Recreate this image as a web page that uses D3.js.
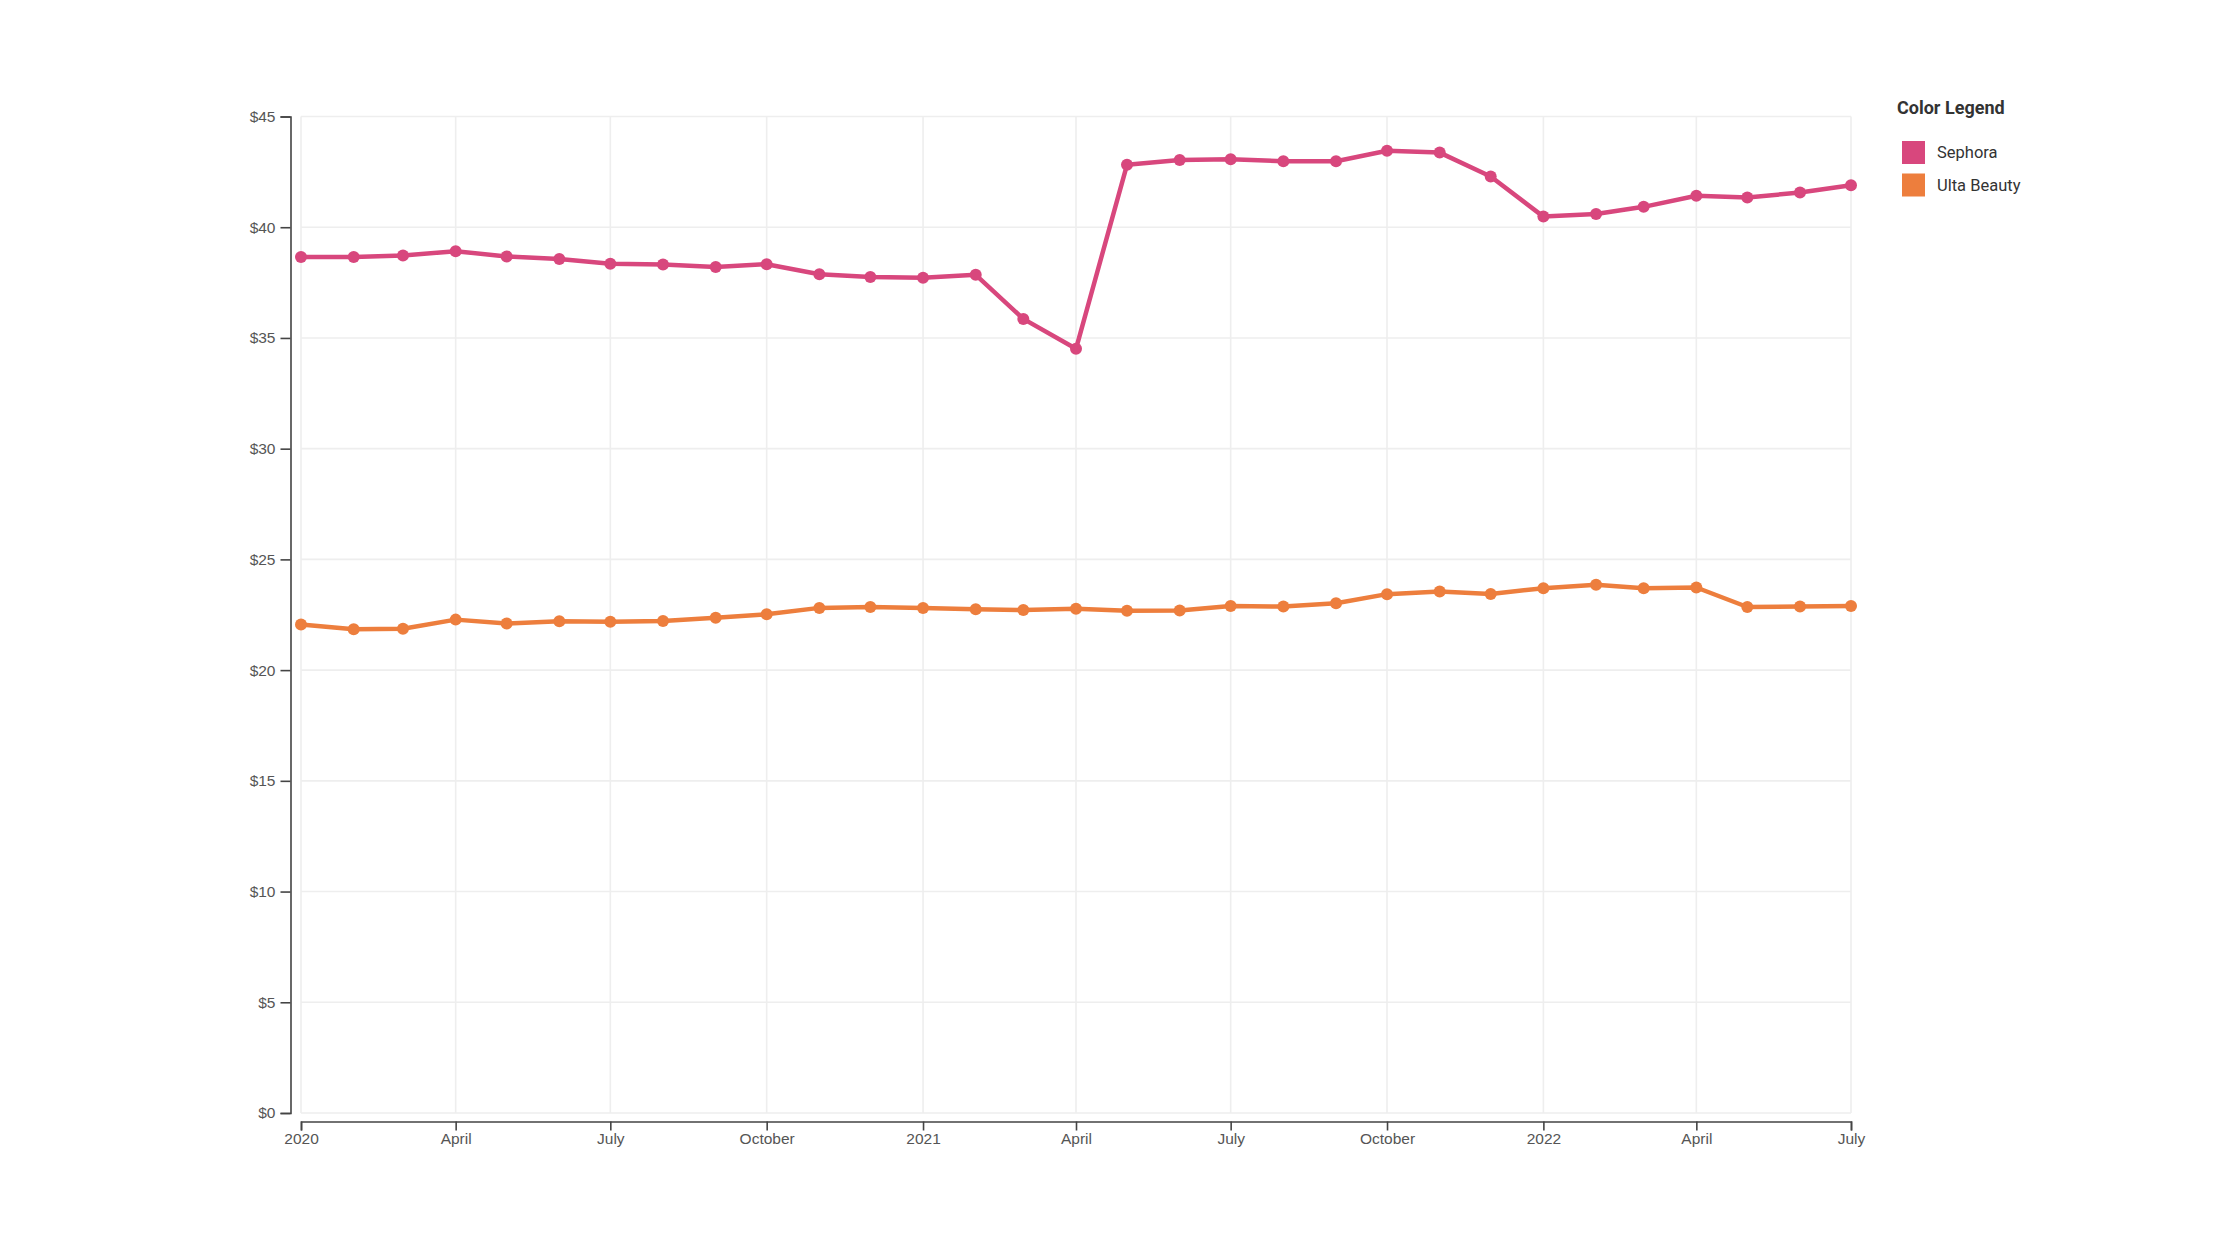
<!DOCTYPE html>
<html>
<head>
<meta charset="utf-8">
<title>Sephora vs Ulta Beauty</title>
<script src="https://cdn.jsdelivr.net/npm/d3@7"></script>
<style>
	html, body {
		margin: 0;
		padding: 0;
		background: #fff;
	}
	.chart-holder {
		width: 2240px;
		height: 1260px;
	}
	.axis text {
		font-family: 'Liberation Sans', Arial, sans-serif;
		font-size: 15.5px;
		fill: #555;
	}
	.axis path,
	.axis line {
		stroke: #444;
		stroke-width: 1.6px;
	}
	.grid line {
		stroke: #eeeeee;
		stroke-width: 1.6px;
	}
	.legend text {
		font-family: Roboto, 'Noto Sans', sans-serif;
		fill: #333;
	}
</style>
</head>
<body>
<div class="chart-holder"></div>
<script>
// monthly points, Jan 2020 .. Jul 2022
var months = [
	'2020-01', '2020-02', '2020-03', '2020-04', '2020-05', '2020-06',
	'2020-07', '2020-08', '2020-09', '2020-10', '2020-11', '2020-12',
	'2021-01', '2021-02', '2021-03', '2021-04', '2021-05', '2021-06',
	'2021-07', '2021-08', '2021-09', '2021-10', '2021-11', '2021-12',
	'2022-01', '2022-02', '2022-03', '2022-04', '2022-05', '2022-06',
	'2022-07'
];

var sephora = [
	38.65, 38.65, 38.72, 38.92, 38.68, 38.56,
	38.35, 38.32, 38.2, 38.33, 37.88, 37.75,
	37.72, 37.85, 35.86, 34.51, 42.82, 43.04,
	43.07, 42.98, 42.98, 43.45, 43.37, 42.29,
	40.48, 40.6, 40.92, 41.42, 41.34, 41.57,
	41.9
];

var ulta = [
	22.06, 21.85, 21.87, 22.28, 22.1, 22.21,
	22.18, 22.22, 22.36, 22.52, 22.81, 22.85,
	22.8, 22.75, 22.71, 22.77, 22.68, 22.69,
	22.9, 22.87, 23.02, 23.43, 23.55, 23.44,
	23.7, 23.85, 23.7, 23.73, 22.85, 22.87,
	22.9
];

var seriesNames = ['Sephora', 'Ulta Beauty'];
var seriesColors = ['#d8477d', '#ed7e3d'];
var yTicks = [0, 5, 10, 15, 20, 25, 30, 35, 40, 45];

initLineChart();

// line chart init
function initLineChart() {
	var width = 2240;
	var height = 1260;

	var margin = {
		top: 116.5,
		right: 389,
		bottom: 147,
		left: 301
	};

	var parseMonth = d3.timeParse('%Y-%m');
	var dates = months.map(parseMonth);
	var allSeries = [sephora, ulta];

	var xScale = d3.scaleTime()
		.domain(d3.extent(dates))
		.range([margin.left, width - margin.right]);

	var yScale = d3.scaleLinear()
		.domain([0, 45])
		.range([height - margin.bottom, margin.top]);

	var xTicks = xScale.ticks(d3.timeMonth.every(3));

	var svg = d3.select('.chart-holder')
		.append('svg')
		.attr('width', width)
		.attr('height', height);

	// grid
	var grid = svg.append('g')
		.attr('class', 'grid');

	grid.selectAll('.h-line')
		.data(yTicks)
		.enter()
		.append('line')
		.attr('class', 'h-line')
		.attr('x1', margin.left)
		.attr('x2', width - margin.right)
		.attr('y1', function(d) {
			return yScale(d);
		})
		.attr('y2', function(d) {
			return yScale(d);
		});

	grid.selectAll('.v-line')
		.data(xTicks)
		.enter()
		.append('line')
		.attr('class', 'v-line')
		.attr('y1', margin.top)
		.attr('y2', height - margin.bottom)
		.attr('x1', function(d) {
			return xScale(d);
		})
		.attr('x2', function(d) {
			return xScale(d);
		});

	// axes
	svg.append('g')
		.attr('class', 'axis x-axis')
		.attr('transform', 'translate(0,' + (height - margin.bottom + 8.5) + ')')
		.call(d3.axisBottom(xScale).tickValues(xTicks).tickSize(9).tickPadding(2.5));

	svg.append('g')
		.attr('class', 'axis y-axis')
		.attr('transform', 'translate(' + (margin.left - 10.5) + ',0)')
		.call(d3.axisLeft(yScale).tickValues(yTicks).tickSize(10).tickPadding(5).tickFormat(d3.format('$')));

	// lines and points
	var line = d3.line()
		.x(function(d, i) {
			return xScale(dates[i]);
		})
		.y(function(d) {
			return yScale(d);
		});

	allSeries.forEach(function(values, k) {
		var holder = svg.append('g')
			.attr('class', 'series');

		holder.append('path')
			.datum(values)
			.attr('fill', 'none')
			.attr('stroke', seriesColors[k])
			.attr('stroke-width', 4.5)
			.attr('stroke-linejoin', 'round')
			.attr('d', line);

		holder.selectAll('circle')
			.data(values)
			.enter()
			.append('circle')
			.attr('fill', seriesColors[k])
			.attr('r', 6)
			.attr('cx', function(d, i) {
				return xScale(dates[i]);
			})
			.attr('cy', function(d) {
				return yScale(d);
			});
	});

	// legend
	var legend = svg.append('g')
		.attr('class', 'legend')
		.attr('transform', 'translate(1897,0)');

	legend.append('text')
		.attr('x', 0)
		.attr('y', 114)
		.attr('font-size', '18px')
		.attr('font-weight', 'bold')
		.text('Color Legend');

	var items = legend.selectAll('.item')
		.data(seriesNames)
		.enter()
		.append('g')
		.attr('class', 'item')
		.attr('transform', function(d, i) {
			return 'translate(0,' + (141 + i * 32.5) + ')';
		});

	items.append('rect')
		.attr('x', 5)
		.attr('y', 0)
		.attr('width', 23)
		.attr('height', 23)
		.attr('fill', function(d, i) {
			return seriesColors[i];
		});

	items.append('text')
		.attr('x', 40)
		.attr('y', 17)
		.attr('font-size', '16.5px')
		.text(function(d) {
			return d;
		});
}
</script>
</body>
</html>
